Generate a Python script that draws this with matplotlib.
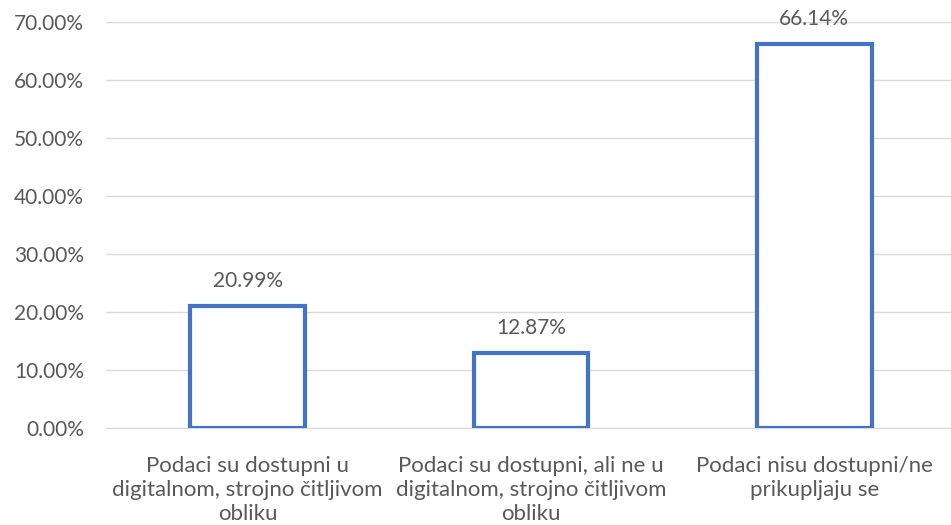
import matplotlib
matplotlib.use('Agg')
import matplotlib.pyplot as plt
from matplotlib.ticker import FuncFormatter

categories = ['Podaci su dostupni u\ndigitalnom, strojno čitljivom\nobliku',
              'Podaci su dostupni, ali ne u\ndigitalnom, strojno čitljivom\nobliku',
              'Podaci nisu dostupni/ne\nprikupljaju se']
values = [20.99, 12.87, 66.14]
yticks = [0, 10, 20, 30, 40, 50, 60, 70]

plt.rcParams['font.family'] = ['Lato', 'DejaVu Sans']
text_col = '#595959'

fig = plt.figure(figsize=(9.51, 5.25), dpi=100)
ax = fig.add_axes([106/951, 1-428/525, 850/951, (428-22)/525])

x = range(len(values))
ax.bar(x, values, width=0.405, facecolor='white', edgecolor='#4472C4', linewidth=3, zorder=3)

for xi, v in zip(x, values):
    ax.text(xi, v + 4.3, f'{v:.2f}%', ha='center', va='center', fontsize=15, color=text_col)

ax.set_xlim(-0.5, 2.5)
ax.set_ylim(0, 70)
ax.set_yticks(yticks)
ax.yaxis.set_major_formatter(FuncFormatter(lambda v, p: f'{v:.2f}%'))
ax.set_xticks(list(x))
ax.set_xticklabels(categories, fontsize=16, color=text_col, linespacing=1.25)
ax.tick_params(axis='y', labelsize=15, labelcolor=text_col, length=0, pad=16)
ax.tick_params(axis='x', length=0, pad=20)

ax.grid(axis='y', color='#D9D9D9', linewidth=1, zorder=0)
for s in ['top', 'right', 'left']:
    ax.spines[s].set_visible(False)
ax.spines['bottom'].set_color('#D9D9D9')
ax.spines['bottom'].set_zorder(1)

plt.savefig('out.png', dpi=100)
